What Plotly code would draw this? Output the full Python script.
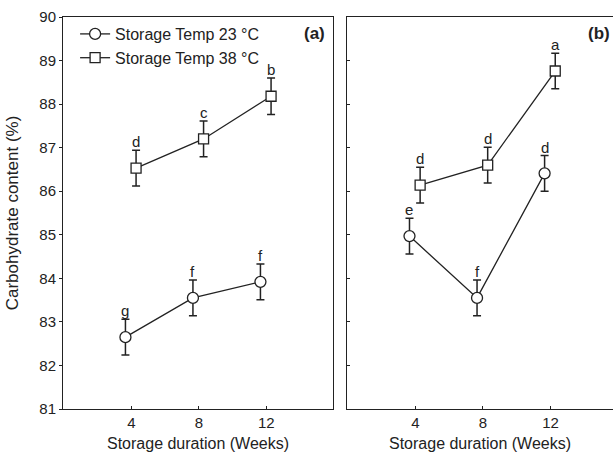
import plotly.graph_objects as go

weeks = [4, 8, 12]
a_23 = [82.65, 83.55, 83.92]
a_38 = [86.53, 87.20, 88.18]
b_23 = [84.97, 83.55, 86.41]
b_38 = [86.14, 86.60, 88.76]
a_23_err = [0.41, 0.41, 0.41]
a_38_err = [0.41, 0.41, 0.42]
b_23_err = [0.41, 0.41, 0.41]
b_38_err = [0.41, 0.41, 0.41]
a_23_lbl = ["g", "f", "f"]
a_38_lbl = ["d", "c", "b"]
b_23_lbl = ["e", "f", "d"]
b_38_lbl = ["d", "d", "a"]
y_ticks = [81, 82, 83, 84, 85, 86, 87, 88, 89, 90]

INK = "#222222"
FONT = "Liberation Sans, Arial, sans-serif"
OFF_C = -0.35
OFF_S = 0.28
FS = 15

fig = go.Figure()

def add_series(xa, ya, vals, errs, symbol, size, off, name, show):
    fig.add_trace(go.Scatter(
        x=[w + off for w in weeks], y=vals, mode="lines+markers",
        name=name, showlegend=show, xaxis=xa, yaxis=ya,
        line=dict(color=INK, width=1.3),
        marker=dict(symbol=symbol, size=size, color="white",
                    line=dict(color=INK, width=1.3)),
        error_y=dict(type="data", array=errs, visible=True,
                     color=INK, thickness=1.5, width=4),
    ))

add_series("x", "y", a_23, a_23_err, "circle", 11, OFF_C, "Storage Temp 23 °C", True)
add_series("x", "y", a_38, a_38_err, "square", 10, OFF_S, "Storage Temp 38 °C", True)
add_series("x2", "y2", b_23, b_23_err, "circle", 11, OFF_C, "Storage Temp 23 °C", False)
add_series("x2", "y2", b_38, b_38_err, "square", 10, OFF_S, "Storage Temp 38 °C", False)

anns = []
def add_letters(xr, yr, vals, errs, lbls, off):
    for w, v, e, t in zip(weeks, vals, errs, lbls):
        anns.append(dict(x=w + off, y=v + e, xref=xr, yref=yr, text=t,
                         showarrow=False, yanchor="bottom", yshift=-2,
                         font=dict(size=FS, color=INK, family=FONT)))

add_letters("x", "y", a_23, a_23_err, a_23_lbl, OFF_C)
add_letters("x", "y", a_38, a_38_err, a_38_lbl, OFF_S)
add_letters("x2", "y2", b_23, b_23_err, b_23_lbl, OFF_C)
add_letters("x2", "y2", b_38, b_38_err, b_38_lbl, OFF_S)

anns.append(dict(x=270/550, y=1, xref="paper", yref="paper", text="<b>(a)</b>",
                 showarrow=False, xanchor="right", yanchor="top", xshift=-6, yshift=-5,
                 font=dict(size=17, color=INK, family=FONT)))
anns.append(dict(x=1, y=1, xref="paper", yref="paper", text="<b>(b)</b>",
                 showarrow=False, xanchor="right", yanchor="top", xshift=-1, yshift=-5,
                 font=dict(size=17, color=INK, family=FONT)))

axis_common = dict(showline=True, linecolor=INK, linewidth=1, showgrid=False,
                   zeroline=False, ticklen=3, tickcolor=INK, tickwidth=1,
                   tickfont=dict(size=FS, color=INK, family=FONT))
title_font = dict(size=16, color=INK, family=FONT)

fig.update_layout(
    width=613, height=452, autosize=False,
    margin=dict(l=63, r=0, t=17, b=43),
    paper_bgcolor="white", plot_bgcolor="white",
    font=dict(family=FONT, color=INK, size=FS),
    showlegend=True,
    legend=dict(x=0.022, y=1.0, xanchor="left", yanchor="top",
                bgcolor="rgba(0,0,0,0)", font=dict(size=16, color=INK, family=FONT),
                tracegroupgap=0, itemwidth=30),
    annotations=anns,
    xaxis=dict(domain=[0, 270/550], range=[-0.05, 15.95], tickvals=weeks,
               ticks="inside", mirror=True,
               title=dict(text="Storage duration (Weeks)", standoff=7, font=title_font),
               **axis_common),
    yaxis=dict(range=[81, 90], tickvals=y_ticks, ticks="outside", mirror=True,
               title=dict(text="Carbohydrate content (%)", standoff=16,
                          font=dict(size=17, color=INK, family=FONT)),
               **axis_common),
    xaxis2=dict(domain=[284/550, 1], range=[-0.05, 15.7], tickvals=weeks,
                ticks="inside", mirror=True, anchor="y2",
                title=dict(text="Storage duration (Weeks)", standoff=7, font=title_font),
                **axis_common),
    yaxis2=dict(range=[81, 90], tickvals=y_ticks, ticks="inside", showticklabels=False,
                mirror=False, anchor="x2", **axis_common),
)

fig.write_html("out.html", config={"displayModeBar": False},
               post_script="document.body.style.margin='0';")
